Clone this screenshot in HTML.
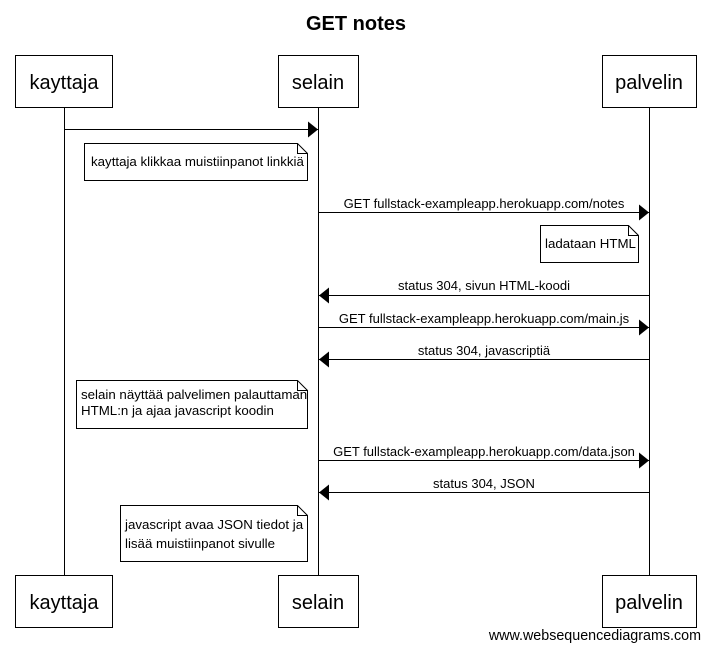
<!DOCTYPE html>
<html><head><style>body{margin:0;background:#fff}svg{display:block}text{font-family:"Liberation Sans",Arial,sans-serif;fill:#000}</style></head>
<body>
<svg width="710" height="652" viewBox="0 0 710 652" xmlns="http://www.w3.org/2000/svg">
<defs><marker id="a" markerWidth="10" markerHeight="16" refX="10" refY="8" orient="auto" markerUnits="userSpaceOnUse"><path d="M0,0 L10,8 L0,16 z" fill="#000"/></marker></defs>
<text x="356" y="30" font-size="20" font-weight="bold" text-anchor="middle">GET notes</text>
<g stroke="#000" stroke-width="1" fill="none">
<line x1="64.5" y1="108" x2="64.5" y2="575"/>
<line x1="318.5" y1="108" x2="318.5" y2="575"/>
<line x1="649.5" y1="108" x2="649.5" y2="575"/>
</g>
<g stroke="#000" fill="#fff" stroke-width="1">
<rect x="15.5" y="55.5" width="97" height="52"/>
<rect x="278.5" y="55.5" width="80" height="52"/>
<rect x="602.5" y="55.5" width="94" height="52"/>
<rect x="15.5" y="575.5" width="97" height="52"/>
<rect x="278.5" y="575.5" width="80" height="52"/>
<rect x="602.5" y="575.5" width="94" height="52"/>
</g>
<g font-size="20" text-anchor="middle">
<text x="64" y="89">kayttaja</text><text x="318" y="89">selain</text><text x="649" y="89">palvelin</text>
<text x="64" y="609">kayttaja</text><text x="318" y="609">selain</text><text x="649" y="609">palvelin</text>
</g>
<g stroke="#000" stroke-width="1" marker-end="url(#a)">
<line x1="65" y1="129.5" x2="318" y2="129.5"/>
<line x1="319" y1="212.5" x2="649" y2="212.5"/>
<line x1="649" y1="295.5" x2="319" y2="295.5"/>
<line x1="319" y1="327.5" x2="649" y2="327.5"/>
<line x1="649" y1="359.5" x2="319" y2="359.5"/>
<line x1="319" y1="460.5" x2="649" y2="460.5"/>
<line x1="649" y1="492.5" x2="319" y2="492.5"/>
</g>
<g font-size="13" text-anchor="middle">
<text x="484" y="208">GET fullstack-exampleapp.herokuapp.com/notes</text>
<text x="484" y="290">status 304, sivun HTML-koodi</text>
<text x="484" y="323">GET fullstack-exampleapp.herokuapp.com/main.js</text>
<text x="484" y="355">status 304, javascriptiä</text>
<text x="484" y="456">GET fullstack-exampleapp.herokuapp.com/data.json</text>
<text x="484" y="488">status 304, JSON</text>
</g>
<g stroke="#000" fill="#fff" stroke-width="1">
<path d="M84.5,143.5 H297.5 L307.5,153.5 V180.5 H84.5 Z M297.5,143.5 V153.5 H307.5"/>
<path d="M540.5,225.5 H628.5 L638.5,235.5 V262.5 H540.5 Z M628.5,225.5 V235.5 H638.5"/>
<path d="M76.5,380.5 H297.5 L307.5,390.5 V428.5 H76.5 Z M297.5,380.5 V390.5 H307.5"/>
<path d="M120.5,505.5 H297.5 L307.5,515.5 V561.5 H120.5 Z M297.5,505.5 V515.5 H307.5"/>
</g>
<g font-size="13.3">
<text x="91" y="166">kayttaja klikkaa muistiinpanot linkkiä</text>
<text x="545" y="248">ladataan HTML</text>
<text x="81" y="399">selain näyttää palvelimen palauttaman</text>
<text x="81" y="415">HTML:n ja ajaa javascript koodin</text>
<text x="125" y="529">javascript avaa JSON tiedot ja</text>
<text x="125" y="548">lisää muistiinpanot sivulle</text>
</g>
<text x="701" y="640" font-size="14.3" text-anchor="end">www.websequencediagrams.com</text>
</svg>
</body></html>
